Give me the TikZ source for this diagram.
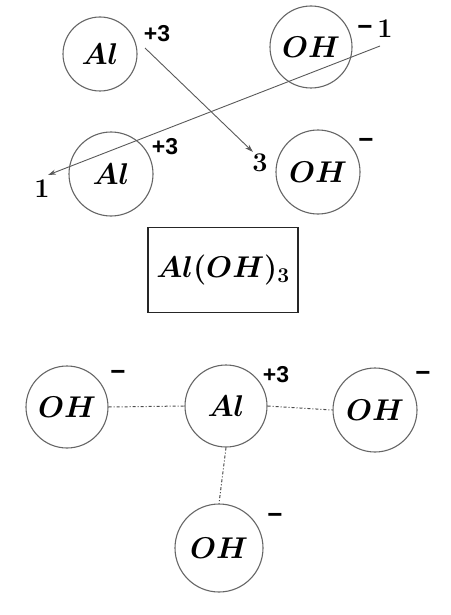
\documentclass[tikz,border=0pt]{standalone}
\usepackage{fix-cm}
\usepackage{fontspec}
\newfontfamily\chgfont{Liberation Sans}
\usetikzlibrary{arrows.meta}
\tikzset{
  ioncircle/.style={circle,draw=black!60,line width=1.1pt,inner sep=0pt,font=\boldmath\fontsize{30}{34}\selectfont},
  chargelbl/.style={inner sep=0pt,font=\chgfont\bfseries\fontsize{23}{25}\selectfont},
  minuslbl/.style={inner sep=0pt,font=\chgfont\bfseries\fontsize{26}{26}\selectfont},
  numlbl/.style={inner sep=0pt,font=\fontsize{27}{30}\selectfont\bfseries},
  xarrow/.style={draw=black!65,line width=0.9pt,-{Stealth[length=8pt,width=5pt]}},
  bondline/.style={draw=black!70,line width=1pt,dash pattern=on 3pt off 2pt on 1pt off 2pt},
  formulabox/.style={draw=black!85,line width=1.6pt,minimum width=150pt,minimum height=85pt,inner sep=0pt,font=\boldmath\fontsize{30}{34}\selectfont}
}
\begin{document}
\begin{tikzpicture}[x=1pt,y=-1pt]
\useasboundingbox (0,0) rectangle (450,615);
\node[ioncircle,minimum size=74pt] (al1) at (100,54) {$Al$};
\node[ioncircle,minimum size=82pt] (oh1) at (311,47) {$OH$};
\node[ioncircle,minimum size=84pt] (al2) at (111,174) {$Al$};
\node[ioncircle,minimum size=84pt] (oh2) at (318,172) {$OH$};
\node[chargelbl] (c1) at (157,34) {+3};
\node[minuslbl] (m1) at (365,30) {−};
\node[numlbl] (n1) at (385,29) {1};
\node[chargelbl] (c2) at (165,147) {+3};
\node[minuslbl] (m2) at (366,143) {−};
\node[numlbl] (n3) at (260,163) {3};
\node[numlbl] (n1b) at (42,189) {1};
\coordinate (s1) at (145,48);
\coordinate (e1) at (253,152);
\coordinate (s2) at (380,46);
\coordinate (e2) at (48,175);
\draw[xarrow] (s1) -- (e1);
\draw[xarrow] (s2) -- (e2);
\node[formulabox] (f) at (223,270) {$Al(OH)_3$};
\node[ioncircle,minimum size=82pt] (ohL) at (67,407) {$OH$};
\node[ioncircle,minimum size=82pt] (alC) at (226,406) {$Al$};
\node[ioncircle,minimum size=84pt] (ohR) at (375,410) {$OH$};
\node[ioncircle,minimum size=88pt] (ohB) at (219,548) {$OH$};
\node[minuslbl] (m3) at (118,375) {−};
\node[chargelbl] (c3) at (276,375) {+3};
\node[minuslbl] (m4) at (423,376) {−};
\node[minuslbl] (m5) at (275,518) {−};
\draw[bondline] (ohL.east) -- (alC.west);
\draw[bondline] (alC.east) -- (ohR.west);
\draw[bondline] (alC.south) -- (ohB.north);
\end{tikzpicture}
\end{document}
